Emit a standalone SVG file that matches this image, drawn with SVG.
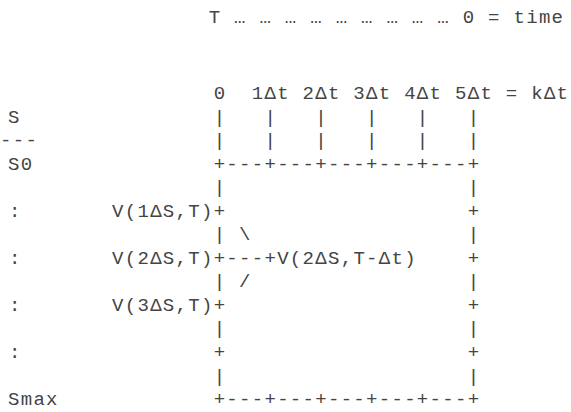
<svg xmlns="http://www.w3.org/2000/svg" width="571" height="412" viewBox="0 0 571 412">
<style>
text{font-family:"Liberation Mono","Courier New",monospace;font-size:19px;letter-spacing:1.3px;fill:#444;white-space:pre}
.c17{}
</style>
<rect width="571" height="412" fill="#fff"/>
<g id="time-axis">
<text x="208.65" y="23" xml:space="preserve">T … … … … … … … … … 0 = time</text>
</g>
<g id="s-labels" xml:space="preserve">
<text x="8" y="122.5">S</text>
<text x="0" y="146">---</text>
<text x="8" y="169.6">S0</text>
<text x="9" y="216.7">:</text>
<text x="9" y="263.8">:</text>
<text x="9" y="310.9">:</text>
<text x="9" y="358">:</text>
<text x="8" y="405">Smax</text>
</g>
<g id="grid" xml:space="preserve">
<text x="213.65" y="99">0  1Δt 2Δt 3Δt 4Δt 5Δt = kΔt</text>
<text x="213.65" y="122.5">|   |   |   |   |   |</text>
<text x="213.65" y="146">|   |   |   |   |   |</text>
<text x="213.65" y="169.6">+---+---+---+---+---+</text>
<text x="213.65" y="193.2">|                   |</text>
<text x="112.05" y="216.7">V(1ΔS,T)+                   +</text>
<text x="213.65" y="240.2">| \                 |</text>
<text x="112.05" y="263.8">V(2ΔS,T)+---+V(2ΔS,T-Δt)    +</text>
<text x="213.65" y="287.3">| /                 |</text>
<text x="112.05" y="310.9">V(3ΔS,T)+                   +</text>
<text x="213.65" y="334.4">|                   |</text>
<text x="213.65" y="358">+                   +</text>
<text x="213.65" y="381.5">|                   |</text>
<text x="213.65" y="405">+---+---+---+---+---+</text>
</g>
</svg>
